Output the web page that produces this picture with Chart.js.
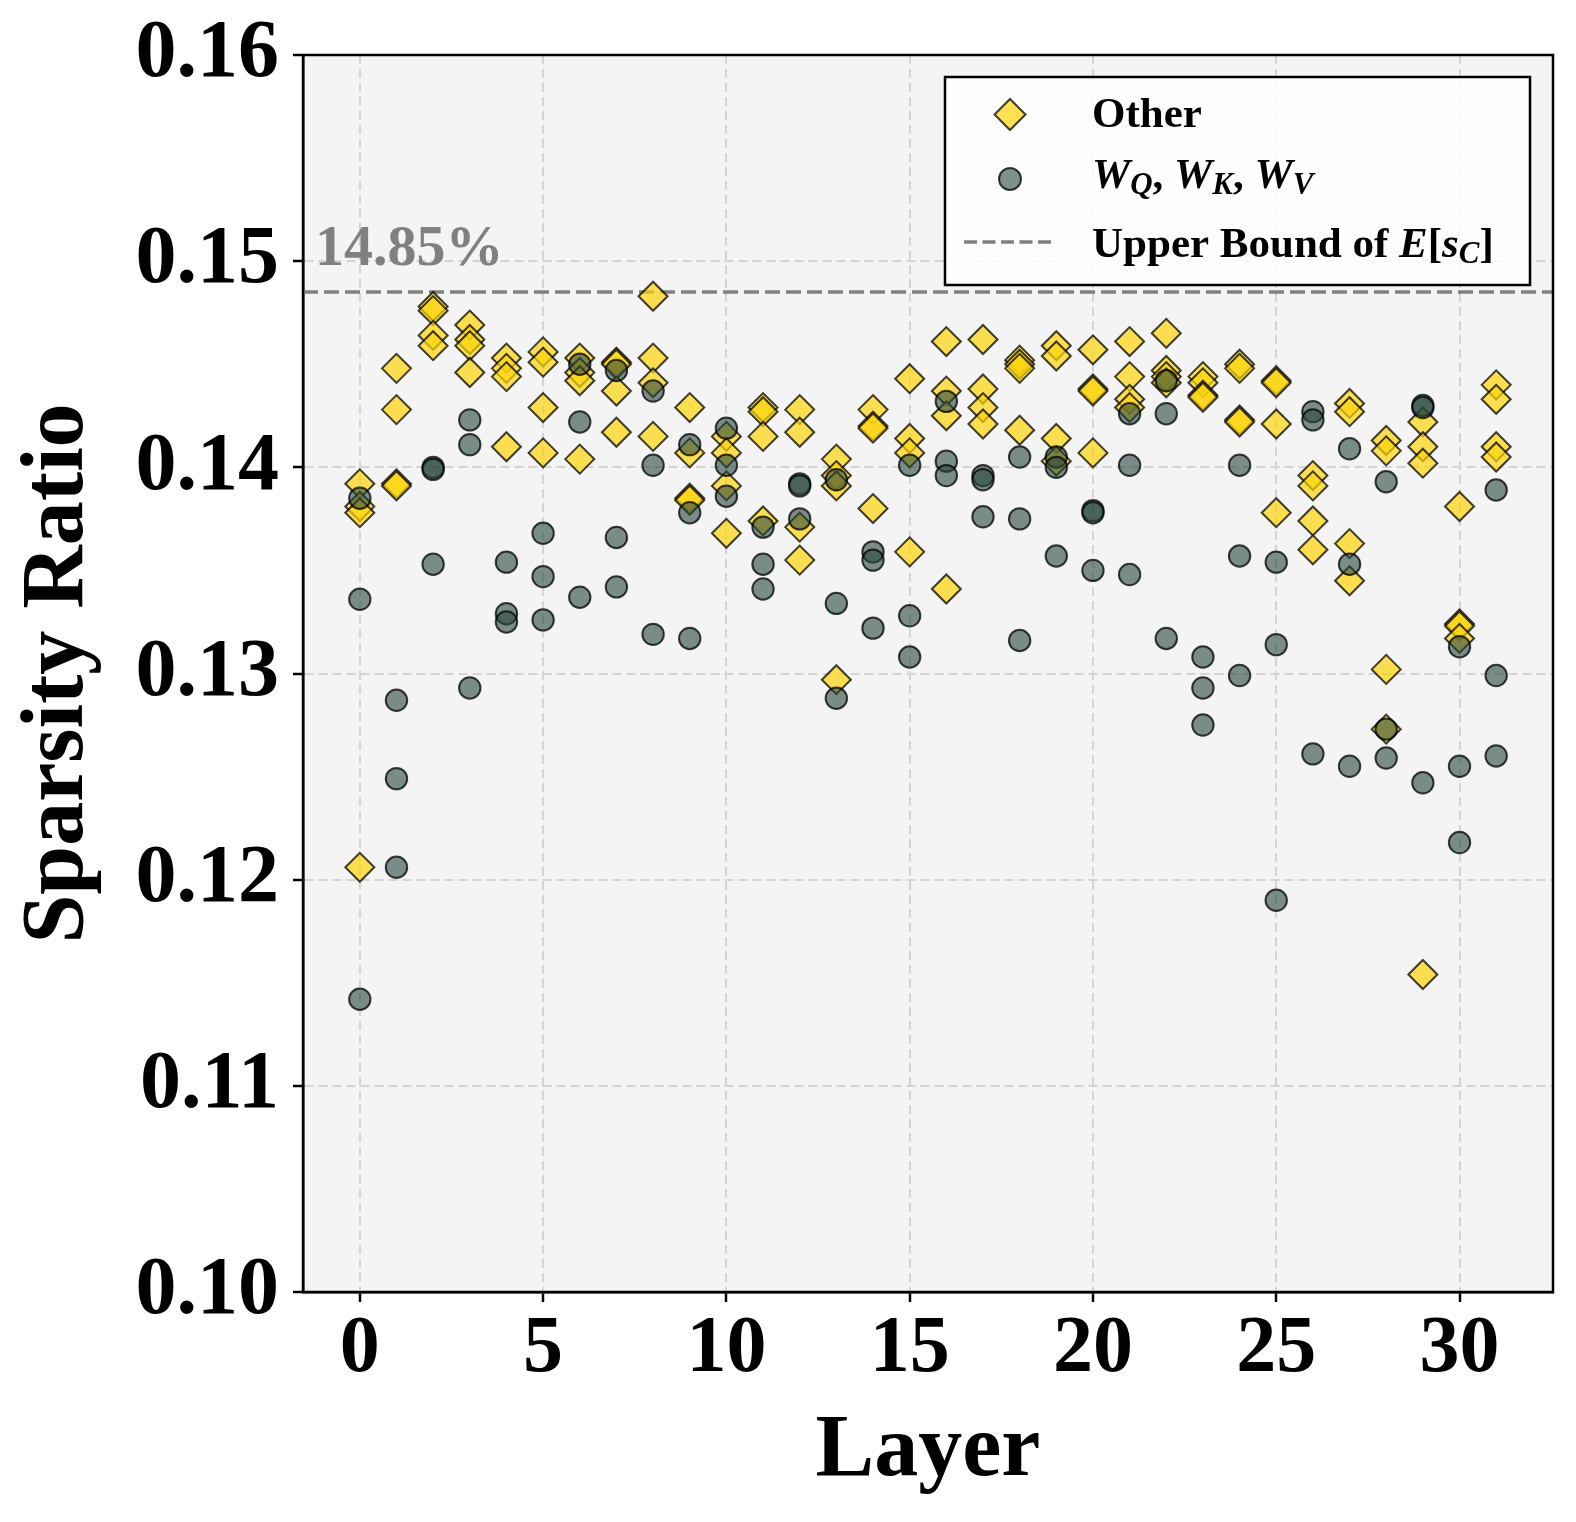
<!DOCTYPE html>
<html>
<head>
<meta charset="utf-8">
<script src="https://cdn.jsdelivr.net/npm/chart.js@4.4.1/dist/chart.umd.min.js"></script>
<style>
  html, body { margin: 0; padding: 0; background: #fff; }
  #wrap { width: 1576px; height: 1522px; }
</style>
</head>
<body>
<div id="wrap"><canvas id="grafico" width="1576" height="1522"></canvas></div>
<script>
// capas del modelo (eje X)
const layers = [0, 1, 2, 3, 4, 5, 6, 7, 8, 9, 10, 11, 12, 13, 14, 15,
                16, 17, 18, 19, 20, 21, 22, 23, 24, 25, 26, 27, 28, 29, 30, 31];

// "Other": 4 matrices por capa (O, gate, up, down)
const otherSparsity = [
  [0.1392, 0.1381, 0.1378, 0.1206],
  [0.1448, 0.1428, 0.1392, 0.1391],
  [0.1478, 0.1476, 0.1464, 0.1459],
  [0.1469, 0.1462, 0.1459, 0.1446],
  [0.1453, 0.1448, 0.1444, 0.1410],
  [0.1456, 0.1451, 0.1429, 0.1407],
  [0.1453, 0.1446, 0.1442, 0.1404],
  [0.1451, 0.1450, 0.1437, 0.1417],
  [0.1483, 0.1453, 0.1441, 0.1415],
  [0.1429, 0.1407, 0.1385, 0.1384],
  [0.1415, 0.1407, 0.1391, 0.1368],
  [0.1429, 0.1427, 0.1415, 0.1374],
  [0.1428, 0.1417, 0.1371, 0.1355],
  [0.1404, 0.1396, 0.1391, 0.1297],
  [0.1428, 0.1420, 0.1419, 0.1380],
  [0.1443, 0.1414, 0.1407, 0.1359],
  [0.1461, 0.1437, 0.1425, 0.1341],
  [0.1462, 0.1438, 0.1429, 0.1421],
  [0.1452, 0.1450, 0.1448, 0.1418],
  [0.1459, 0.1454, 0.1414, 0.1403],
  [0.1457, 0.1438, 0.1437, 0.1407],
  [0.1461, 0.1444, 0.1433, 0.1429],
  [0.1465, 0.1447, 0.1444, 0.1441],
  [0.1444, 0.1441, 0.1435, 0.1434],
  [0.1450, 0.1448, 0.1423, 0.1422],
  [0.1442, 0.1441, 0.1421, 0.1378],
  [0.1396, 0.1391, 0.1374, 0.1360],
  [0.1431, 0.1427, 0.1363, 0.1345],
  [0.1413, 0.1408, 0.1302, 0.1273],
  [0.1422, 0.1410, 0.1402, 0.1154],
  [0.1381, 0.1324, 0.1323, 0.1317],
  [0.1440, 0.1433, 0.1410, 0.1405]
];

// W_Q, W_K, W_V: 3 matrices por capa
const qkvSparsity = [
  [0.1385, 0.1336, 0.1142],
  [0.1287, 0.1249, 0.1206],
  [0.1400, 0.1399, 0.1353],
  [0.1423, 0.1411, 0.1293],
  [0.1354, 0.1329, 0.1325],
  [0.1368, 0.1347, 0.1326],
  [0.1450, 0.1422, 0.1337],
  [0.1447, 0.1366, 0.1342],
  [0.1437, 0.1401, 0.1319],
  [0.1411, 0.1378, 0.1317],
  [0.1419, 0.1401, 0.1386],
  [0.1371, 0.1353, 0.1341],
  [0.1392, 0.1391, 0.1375],
  [0.1394, 0.1334, 0.1288],
  [0.1359, 0.1355, 0.1322],
  [0.1401, 0.1328, 0.1308],
  [0.1432, 0.1403, 0.1396],
  [0.1396, 0.1394, 0.1376],
  [0.1405, 0.1375, 0.1316],
  [0.1405, 0.1400, 0.1357],
  [0.1379, 0.1378, 0.1350],
  [0.1426, 0.1401, 0.1348],
  [0.1442, 0.1426, 0.1317],
  [0.1308, 0.1293, 0.1275],
  [0.1401, 0.1357, 0.1299],
  [0.1354, 0.1314, 0.1190],
  [0.1427, 0.1423, 0.1261],
  [0.1409, 0.1353, 0.1255],
  [0.1393, 0.1273, 0.1259],
  [0.1430, 0.1429, 0.1247],
  [0.1313, 0.1255, 0.1218],
  [0.1389, 0.1299, 0.1260]
];

const xTicks = [0, 5, 10, 15, 20, 25, 30];
const yTicks = [0.10, 0.11, 0.12, 0.13, 0.14, 0.15, 0.16];
const xRange = [-1.55, 32.55];
const upperBound = 0.1485;
const boundLabel = '14.85%';

const FUENTE = "'Liberation Serif', 'Times New Roman', serif";

const otherPoints = layers.flatMap((l, i) => otherSparsity[i].map(v => ({x: l, y: v})));
const qkvPoints = layers.flatMap((l, i) => qkvSparsity[i].map(v => ({x: l, y: v})));
const boundPoints = xRange.map(x => ({x: x, y: upperBound}));

const COLOR_OTHER = 'rgba(252, 212, 10, 0.70)';
const COLOR_QKV = 'rgba(40, 70, 62, 0.60)';
const BORDE = 'rgba(0, 0, 0, 0.75)';

// fondo gris del area de trazado
const fondo = {
  id: 'fondo',
  beforeDraw(chart) {
    const {ctx, chartArea: a} = chart;
    ctx.save();
    ctx.fillStyle = '#f4f4f4';
    ctx.fillRect(a.left, a.top, a.right - a.left, a.bottom - a.top);
    ctx.restore();
  }
};

// texto con subindices en cursiva
function textoRico(ctx, partes, x, y, size) {
  let cx = x;
  partes.forEach(p => {
    const fs = p.sub ? size * 0.72 : size;
    ctx.font = (p.it ? 'italic ' : '') + 'bold ' + fs + 'px ' + FUENTE;
    ctx.fillText(p.t, cx, y + (p.sub ? size * 0.14 : 0));
    cx += ctx.measureText(p.t).width;
  });
}

// marco, etiqueta 14.85% y leyenda
const extras = {
  id: 'extras',
  afterDraw(chart) {
    const {ctx, chartArea: a, scales} = chart;
    ctx.save();

    // etiqueta de la cota superior
    ctx.font = 'bold 58px ' + FUENTE;
    ctx.fillStyle = '#808080';
    ctx.textBaseline = 'alphabetic';
    ctx.textAlign = 'left';
    ctx.fillText(boundLabel, scales.x.getPixelForValue(-1.22), scales.y.getPixelForValue(0.1498));

    // marco completo
    ctx.strokeStyle = '#000';
    ctx.lineWidth = 2.5;
    ctx.strokeRect(a.left, a.top, a.right - a.left, a.bottom - a.top);

    // leyenda
    const bw = 585, bh = 208;
    const bx = a.right - 23 - bw, by = a.top + 22;
    ctx.fillStyle = 'rgba(255, 255, 255, 0.85)';
    ctx.fillRect(bx, by, bw, bh);
    ctx.lineWidth = 2.5;
    ctx.strokeRect(bx, by, bw, bh);

    const mx = bx + 65, tx = bx + 147;
    // diamante
    const r = 15.5, y1 = by + 37.5;
    ctx.beginPath();
    ctx.moveTo(mx, y1 - r); ctx.lineTo(mx + r, y1); ctx.lineTo(mx, y1 + r); ctx.lineTo(mx - r, y1);
    ctx.closePath();
    ctx.fillStyle = COLOR_OTHER; ctx.fill();
    ctx.strokeStyle = BORDE; ctx.lineWidth = 2; ctx.stroke();
    // circulo
    const y2 = by + 102;
    ctx.beginPath();
    ctx.arc(mx, y2, 11, 0, Math.PI * 2);
    ctx.fillStyle = COLOR_QKV; ctx.fill();
    ctx.strokeStyle = BORDE; ctx.stroke();
    // linea discontinua
    const y3 = by + 165;
    ctx.beginPath();
    ctx.setLineDash([13, 5.5]);
    ctx.moveTo(bx + 19, y3); ctx.lineTo(bx + 110, y3);
    ctx.strokeStyle = '#808080'; ctx.lineWidth = 3.5; ctx.stroke();
    ctx.setLineDash([]);

    ctx.fillStyle = '#000';
    textoRico(ctx, [{t: 'Other'}], tx, by + 50, 43);
    textoRico(ctx, [
      {t: 'W', it: true}, {t: 'Q', it: true, sub: true}, {t: ', '},
      {t: 'W', it: true}, {t: 'K', it: true, sub: true}, {t: ', '},
      {t: 'W', it: true}, {t: 'V', it: true, sub: true}
    ], tx, by + 111, 43);
    textoRico(ctx, [
      {t: 'Upper Bound of '}, {t: 'E', it: true}, {t: '['},
      {t: 's', it: true}, {t: 'C', it: true, sub: true}, {t: ']'}
    ], tx, by + 180, 43);

    ctx.restore();
  }
};

const grilla = {
  color: '#d4d4d4',
  lineWidth: 2,
  tickColor: '#000',
  tickWidth: 2.5,
  tickLength: 10,
  tickBorderDash: []
};

const ctx = document.getElementById('grafico').getContext('2d');
const grafico = new Chart(ctx, {
  type: 'scatter',
  data: {
    datasets: [
      {
        label: 'W_Q, W_K, W_V',
        data: qkvPoints,
        pointStyle: 'circle',
        pointRadius: 10.7,
        backgroundColor: COLOR_QKV,
        borderColor: BORDE,
        borderWidth: 2,
        order: 1
      },
      {
        label: 'Other',
        data: otherPoints,
        pointStyle: 'rectRot',
        pointRadius: 14.5,
        backgroundColor: COLOR_OTHER,
        borderColor: BORDE,
        borderWidth: 2,
        order: 2
      },
      {
        label: 'Upper Bound',
        data: boundPoints,
        showLine: true,
        pointRadius: 0,
        borderColor: '#808080',
        borderWidth: 3.5,
        borderDash: [15, 6],
        order: 3
      }
    ]
  },
  options: {
    responsive: false,
    devicePixelRatio: 1,
    animation: false,
    events: [],
    layout: { padding: { top: 51, right: 23, bottom: 0, left: 0 } },
    plugins: { legend: { display: false }, tooltip: { enabled: false } },
    scales: {
      x: {
        type: 'linear',
        min: xRange[0],
        max: xRange[1],
        afterBuildTicks: s => { s.ticks = xTicks.map(v => ({value: v})); },
        afterFit: s => { s.height = 230; },
        ticks: {
          color: '#000',
          font: { family: FUENTE, size: 80, weight: 'bold', lineHeight: 1 },
          padding: 8,
          maxRotation: 0,
          autoSkip: false,
          callback: v => String(v)
        },
        grid: grilla,
        border: { display: true, color: '#000', width: 2.5, dash: [9, 5] },
        title: {
          display: true,
          text: 'Layer',
          color: '#000',
          font: { family: FUENTE, size: 88, weight: 'bold', lineHeight: 1.2 },
          padding: { top: 0, bottom: 17 }
        }
      },
      y: {
        type: 'linear',
        min: 0.10,
        max: 0.16,
        afterBuildTicks: s => { s.ticks = yTicks.map(v => ({value: v})); },
        afterFit: s => { s.width = 303; },
        ticks: {
          color: '#000',
          font: { family: FUENTE, size: 82, weight: 'bold', lineHeight: 1 },
          padding: 14,
          autoSkip: false,
          callback: v => v.toFixed(2)
        },
        grid: grilla,
        border: { display: true, color: '#000', width: 2.5, dash: [9, 5] },
        title: {
          display: true,
          text: 'Sparsity Ratio',
          color: '#000',
          font: { family: FUENTE, size: 88, weight: 'bold', lineHeight: 1.2 },
          padding: { top: 6, bottom: 0 }
        }
      }
    }
  },
  plugins: [fondo, extras]
});
</script>
</body>
</html>
